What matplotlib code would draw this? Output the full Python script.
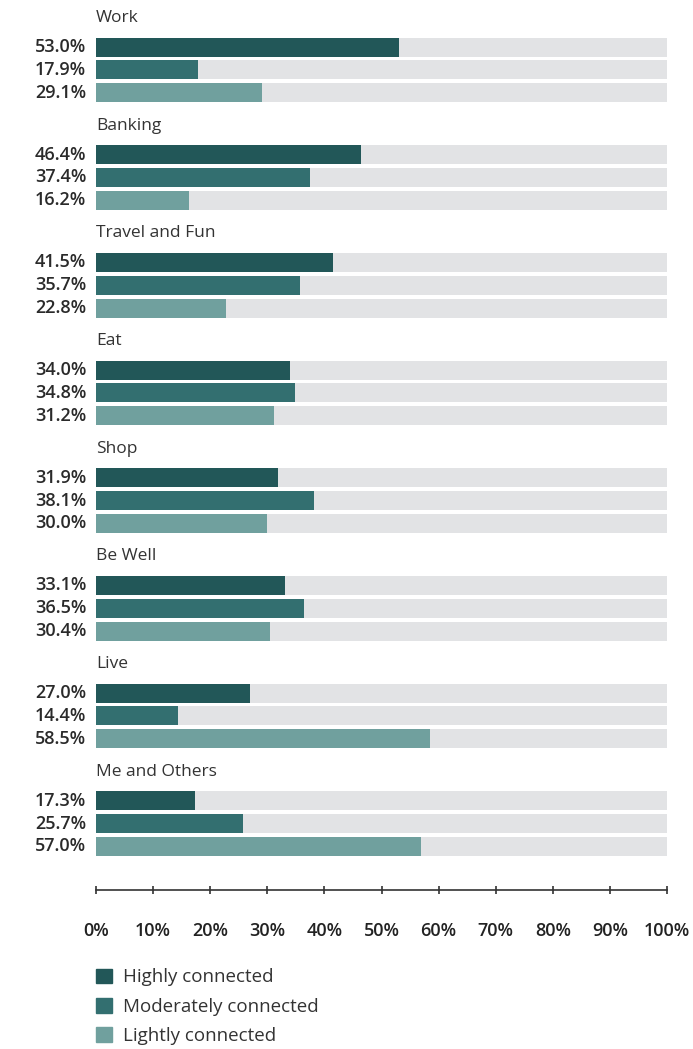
import matplotlib.pyplot as plt
from matplotlib.patches import Patch

plt.rcParams['font.family'] = ['Open Sans', 'DejaVu Sans']

categories = ['Work', 'Banking', 'Travel and Fun', 'Eat', 'Shop', 'Be Well', 'Live', 'Me and Others']
highly = [53.0, 46.4, 41.5, 34.0, 31.9, 33.1, 27.0, 17.3]
moderately = [17.9, 37.4, 35.7, 34.8, 38.1, 36.5, 14.4, 25.7]
lightly = [29.1, 16.2, 22.8, 31.2, 30.0, 30.4, 58.5, 57.0]
series_names = ['Highly connected', 'Moderately connected', 'Lightly connected']
colors = ['#225758', '#336f70', '#70a09e']
track = '#e2e3e5'
ticks = list(range(0, 101, 10))

fig = plt.figure(figsize=(6.93, 10.49), dpi=100)
# y units are roughly figure pixels from the top
ax = fig.add_axes([96 / 693, (1049 - 895) / 1049, (667 - 96) / 693, 895 / 1049])
ax.set_xlim(0, 100)
ax.set_ylim(895, 0)

group_step = 107.7
bar_step = 22.8
bar_h = 19

for g, cat in enumerate(categories):
    top = 47 + g * group_step
    ax.text(0, top - 29, cat, fontsize=12.5, color='#333333', va='center', ha='left')
    for k, vals in enumerate([highly, moderately, lightly]):
        y = top + k * bar_step
        ax.barh(y, 100, height=bar_h, color=track, zorder=1)
        ax.barh(y, vals[g], height=bar_h, color=colors[k], zorder=2)
        ax.text(-1.7, y, f'{vals[g]:.1f}%', fontsize=13, fontweight='semibold',
                color='#2a2a2a', va='center', ha='right')

for s in ['top', 'right', 'left']:
    ax.spines[s].set_visible(False)
ax.spines['bottom'].set_position(('data', 890))
ax.spines['bottom'].set_color('#333333')
ax.spines['bottom'].set_linewidth(1.2)
ax.set_yticks([])
ax.set_xticks(ticks)
ax.set_xticklabels([f'{t}%' for t in ticks])
ax.tick_params(axis='x', direction='inout', length=6, width=1.2, color='#333333',
               pad=20, labelsize=13, labelcolor='#222222')
for lbl in ax.get_xticklabels():
    lbl.set_fontweight('semibold')

handles = [Patch(color=c) for c in colors]
fig.legend(handles, series_names, loc='upper left', bbox_to_anchor=(88.5 / 693, 1 - 961 / 1049),
           frameon=False, fontsize=13.5, handlelength=0.85, handleheight=0.85,
           labelspacing=0.6, handletextpad=0.6, borderaxespad=0, labelcolor='#333333')

fig.savefig('out.png', dpi=100)
